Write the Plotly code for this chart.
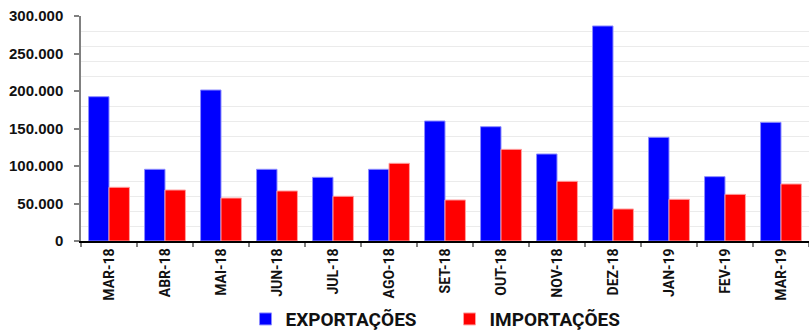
import plotly.graph_objects as go

categories = ["MAR-18", "ABR-18", "MAI-18", "JUN-18", "JUL-18", "AGO-18", "SET-18",
              "OUT-18", "NOV-18", "DEZ-18", "JAN-19", "FEV-19", "MAR-19"]
exportacoes = [192400, 95600, 201300, 95600, 84900, 95600, 160000,
               152400, 116000, 286700, 138200, 85800, 158200]
importacoes = [71600, 68000, 57300, 66700, 59600, 103600, 54700,
               122200, 79600, 42700, 55600, 62200, 76000]

fig = go.Figure()
fig.add_trace(go.Bar(name="EXPORTAÇÕES", x=categories, y=exportacoes,
                     marker=dict(color="#0000ff", line=dict(color="#8c8cff", width=1))))
fig.add_trace(go.Bar(name="IMPORTAÇÕES", x=categories, y=importacoes,
                     marker=dict(color="#ff0000", line=dict(color="#ffa0a0", width=1))))

fig.update_layout(
    width=809, height=331,
    margin=dict(l=81, r=0, t=16, b=90, autoexpand=False),
    paper_bgcolor="white", plot_bgcolor="white",
    barmode="group", bargap=0.27, bargroupgap=0,
    separators=",.",
    showlegend=True,
    legend=dict(orientation="h", x=0.226, xanchor="left",
                yref="container", y=0.036, yanchor="middle",
                entrywidth=159, entrywidthmode="pixels",
                font=dict(family="Roboto", size=19, color="#111111", weight="bold"),
                itemclick=False, tracegroupgap=0),
    font=dict(family="Roboto", color="#111111"),
)

fig.update_yaxes(
    range=[0, 300000], dtick=50000, tick0=0, tickformat=",",
    showgrid=False,
    minor=dict(dtick=20000, tick0=0, showgrid=True, gridcolor="#ebebeb", gridwidth=1, ticks=""),
    showline=True, linecolor="#808080", linewidth=1.5,
    ticks="outside", ticklen=5, tickcolor="#808080", tickwidth=1.5,
    tickfont=dict(family="Liberation Sans", size=15, color="#111111", weight="bold"),
    ticklabelstandoff=8, automargin=False,
    zeroline=False, fixedrange=True,
)
fig.update_xaxes(
    showline=True, linecolor="#000000", linewidth=1.5,
    ticks="outside", ticklen=4, tickcolor="#808080", tickwidth=1.5,
    tickson="boundaries", tickangle=-90, automargin=False,
    tickfont=dict(family="Roboto", size=14, color="#111111", weight="bold"),
    showgrid=False, fixedrange=True,
)

fig.write_html("out.html")
